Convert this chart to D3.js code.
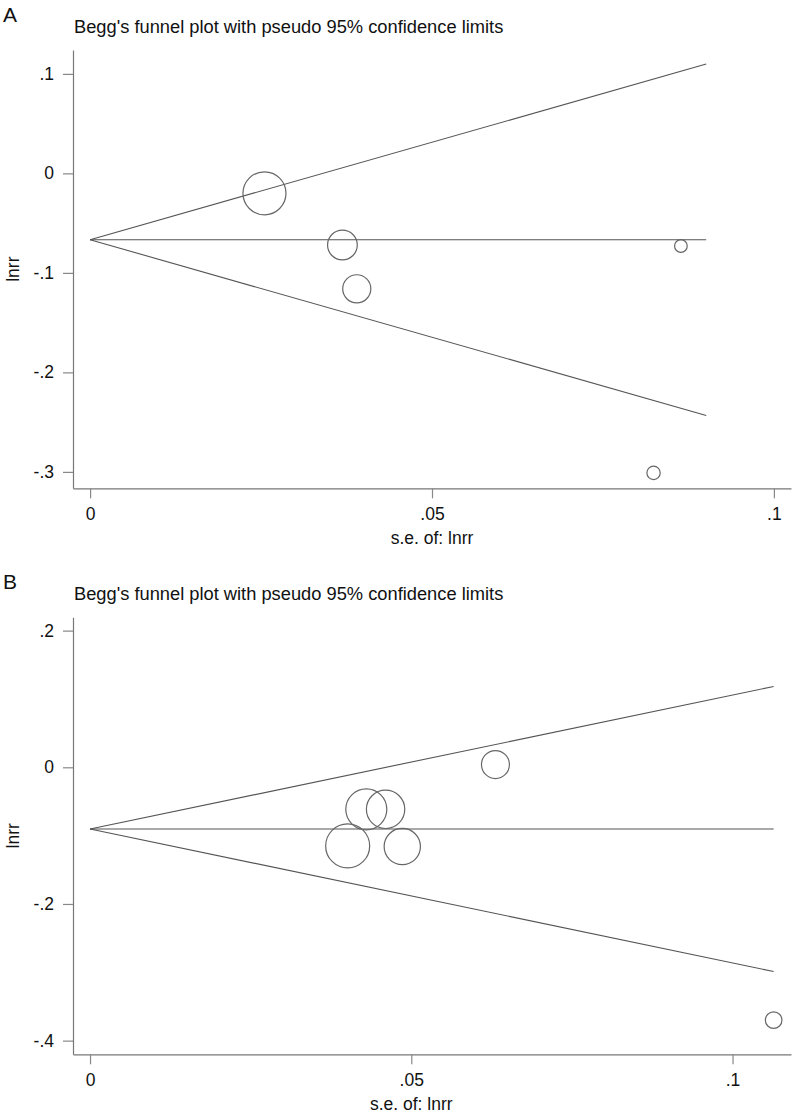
<!DOCTYPE html>
<html><head><meta charset="utf-8">
<script src="https://cdn.jsdelivr.net/npm/d3@7"></script>
<style>
body{margin:0;background:#fff}
text{font-family:"Liberation Sans",Arial,Helvetica,sans-serif;fill:#111}
</style>
</head><body>
<svg id="chart" width="793" height="1114"></svg>
<script>
// ---- data ----
const panelLabels = ["A", "B"];
const titleText = "Begg's funnel plot with pseudo 95% confidence limits";
const xAxisTitle = "s.e. of: lnrr";
const yAxisTitle = "lnrr";

// Panel A studies
const seA    = [0.0255, 0.0369, 0.0390, 0.0864, 0.0824];
const lnrrA  = [-0.020, -0.072, -0.116, -0.073, -0.301];
const pooledA = -0.0667;
const seMaxA  = 0.0901;
const xTicksA = [0, 0.05, 0.1];
const yTicksA = [0.1, 0, -0.1, -0.2, -0.3];

// Panel B studies
const seB    = [0.0631, 0.0430, 0.0460, 0.0401, 0.0486, 0.1064];
const lnrrB  = [0.004, -0.0615, -0.0615, -0.115, -0.116, -0.370];
const pooledB = -0.0903;
const seMaxB  = 0.1064;
const xTicksB = [0, 0.05, 0.1];
const yTicksB = [0.2, 0, -0.2, -0.4];

const z = 1.96;
const fmt = v => String(+(+v).toFixed(3)).replace(/^(-?)0\./, "$1.");

const svg = d3.select("#chart");

function drawPanel(cfg) {
  const g = svg.append("g");
  const x = d3.scaleLinear().domain(cfg.xDomain).range([cfg.left, cfg.right]);
  const y = d3.scaleLinear().domain(cfg.yDomain).range([cfg.top, cfg.bottom]);

  // panel letter
  g.append("text").attr("x", 3).attr("y", cfg.top - 28)
    .style("font-size", "21px").text(cfg.label);
  // title
  g.append("text").attr("x", cfg.left + 1).attr("y", cfg.top - 17)
    .style("font-size", "18.3px").text(titleText);

  // y axis
  const ya = g.append("g").attr("transform", `translate(${cfg.left},0)`)
    .call(d3.axisLeft(y).tickValues(cfg.yTicks).tickFormat(fmt).tickSize(10).tickPadding(9).tickSizeOuter(0));
  // x axis
  const xa = g.append("g").attr("transform", `translate(0,${cfg.bottom})`)
    .call(d3.axisBottom(x).tickValues(cfg.xTicks).tickFormat(fmt).tickSize(10).tickPadding(9).tickSizeOuter(0));
  [ya, xa].forEach(a => {
    a.select(".domain").attr("stroke", "#777").attr("stroke-width", 1.2);
    a.selectAll(".tick line").attr("stroke", "#888").attr("stroke-width", 1.2);
    a.selectAll(".tick text").style("font-size", "17.5px").attr("fill", "#111").style("font-family", '"Liberation Sans",Arial,sans-serif');
  });

  // axis titles
  g.append("text").attr("x", (x(cfg.xTicks[0]) + x(cfg.xTicks[cfg.xTicks.length - 1])) / 2)
    .attr("y", cfg.bottom + 56).attr("text-anchor", "middle")
    .style("font-size", "17.5px").text(xAxisTitle);
  g.append("text").attr("transform", `translate(19,${(cfg.top + cfg.bottom) / 2}) rotate(-90)`)
    .attr("text-anchor", "middle").style("font-size", "17.5px").text(yAxisTitle);

  // funnel lines
  const ends = [0, cfg.seMax];
  const line = d3.line().x(d => x(d[0])).y(d => y(d[1]));
  const lines = [
    ends.map(s => [s, cfg.pooled]),
    ends.map(s => [s, cfg.pooled + z * s]),
    ends.map(s => [s, cfg.pooled - z * s])
  ];
  g.selectAll("path.funnel").data(lines).join("path").attr("class", "funnel")
    .attr("d", line).attr("fill", "none").attr("stroke", "#555").attr("stroke-width", 1.1);

  // study markers, area proportional to weight 1/se^2
  const pts = cfg.se.map((s, i) => ({ se: s, v: cfg.lnrr[i], w: 1 / (s * s) }));
  const r = d3.scaleSqrt().domain([0, d3.max(pts, d => d.w)]).range([0, cfg.rMax]);
  g.selectAll("circle").data(pts).join("circle")
    .attr("cx", d => x(d.se)).attr("cy", d => y(d.v)).attr("r", d => r(d.w))
    .attr("fill", "none").attr("stroke", "#666").attr("stroke-width", 1.2);
}

drawPanel({
  label: panelLabels[0], se: seA, lnrr: lnrrA, pooled: pooledA, seMax: seMaxA,
  xTicks: xTicksA, yTicks: yTicksA,
  xDomain: [-0.0025, 0.1025], yDomain: [0.124, -0.3165],
  left: 73, right: 791, top: 50, bottom: 488.3, rMax: 21.5
});
drawPanel({
  label: panelLabels[1], se: seB, lnrr: lnrrB, pooled: pooledB, seMax: seMaxB,
  xTicks: xTicksB, yTicks: yTicksB,
  xDomain: [-0.00265, 0.1091], yDomain: [0.2195, -0.42],
  left: 73, right: 791, top: 617.3, bottom: 1054.3, rMax: 22
});
</script>
</body></html>
